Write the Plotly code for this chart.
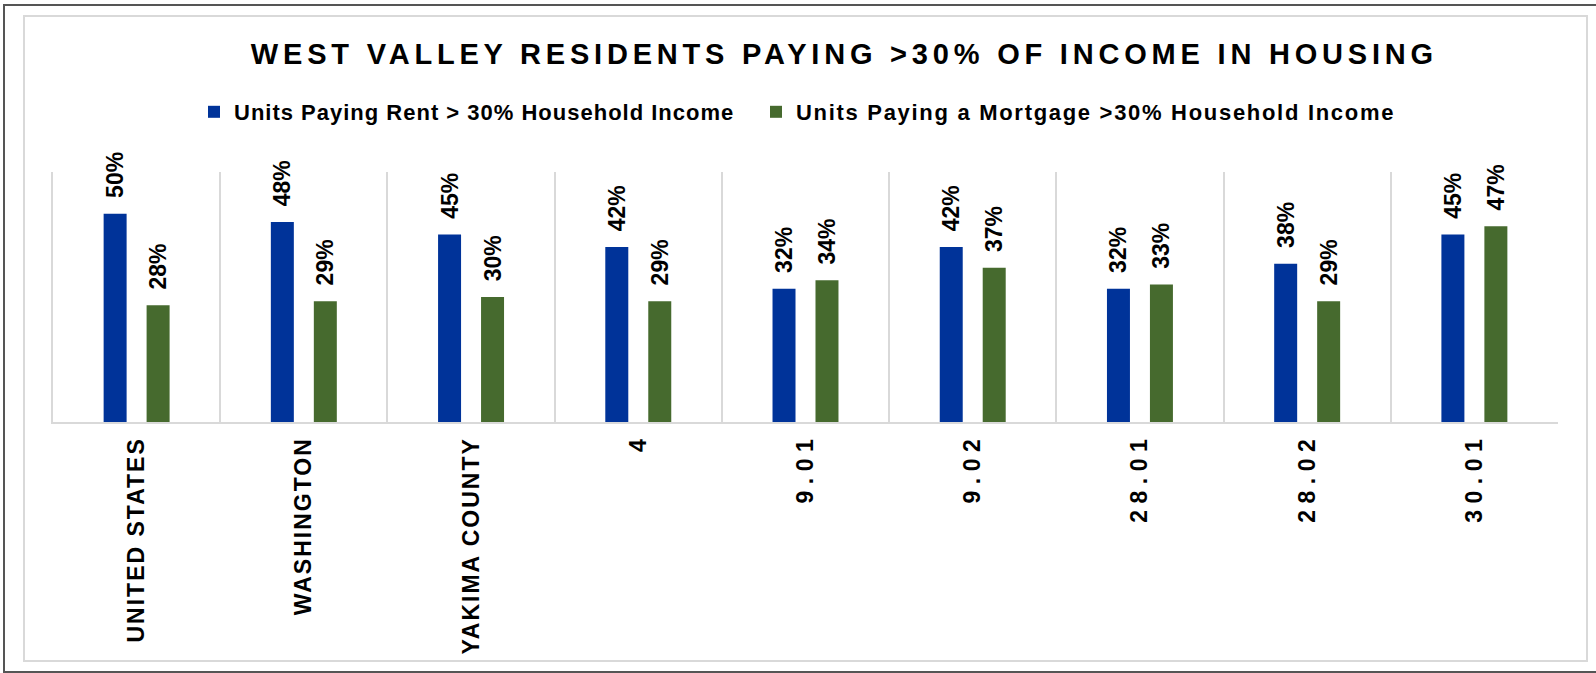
import plotly.graph_objects as go

categories = ["UNITED STATES", "WASHINGTON", "YAKIMA COUNTY", "4", "9.01", "9.02", "28.01", "28.02", "30.01"]
rent_pct = [0.50, 0.48, 0.45, 0.42, 0.32, 0.42, 0.32, 0.38, 0.45]
mortgage_pct = [0.28, 0.29, 0.30, 0.29, 0.34, 0.37, 0.33, 0.29, 0.47]
series_names = ["Units Paying Rent > 30% Household Income",
                "Units Paying a Mortgage >30% Household Income"]
title_text = "WEST VALLEY RESIDENTS PAYING >30% OF INCOME IN HOUSING"

W, H = 1596, 673
ML, MR, MT, MB = 53, 38, 172, 251
PW, PH = W - ML - MR, H - MT - MB

BLUE = "#003399"
GREEN = "#466A2E"
GRID = "#D9D9D9"
FONT = "Liberation Sans, Arial, sans-serif"


def px_x(p):
    return (p - ML) / PW


def px_y(p):
    return (H - MB - p) / PH


def spaced(s, ls):
    if len(s) < 2:
        return s
    return f"<span style='letter-spacing:{ls}px'>{s[:-1]}</span>{s[-1]}"


tick_text = [spaced(c, 6.5 if c[0].isdigit() else 2) for c in categories]

fig = go.Figure()
legend_ids = ["legend", "legend2"]
legend_spacing = [1, 1.7]
for i, (vals, color) in enumerate([(rent_pct, BLUE), (mortgage_pct, GREEN)]):
    fig.add_trace(go.Bar(
        x=categories, y=vals, name=spaced(series_names[i], legend_spacing[i]), legend=legend_ids[i],
        marker=dict(color=color, line=dict(width=0)),
        texttemplate="\u00a0\u00a0%{y:.0%}",
        textposition="outside", textangle=-90, constraintext="none",
        cliponaxis=False,
        textfont=dict(family=FONT, size=23, color="black", weight="bold"),
    ))

legend_font = dict(family=FONT, size=22, color="black", weight="bold")
fig.update_layout(
    width=W, height=H,
    margin=dict(l=ML, r=MR, t=MT, b=MB, autoexpand=False),
    paper_bgcolor="white", plot_bgcolor="white",
    barmode="group", bargap=0.486, bargroupgap=0.465,
    font=dict(family=FONT, color="black"),
    title=dict(text=spaced(title_text, 4.8), x=842 / W, xanchor="center",
               y=1 - 54 / H, yanchor="middle",
               font=dict(family=FONT, size=29, color="black", weight="bold")),
    showlegend=True,
    legend=dict(orientation="h", x=px_x(194), xanchor="left", y=px_y(112), yanchor="middle",
                font=legend_font, bgcolor="rgba(0,0,0,0)"),
    legend2=dict(orientation="h", x=px_x(756), xanchor="left", y=px_y(112), yanchor="middle",
                 font=legend_font, bgcolor="rgba(0,0,0,0)"),
    xaxis=dict(type="category", tickmode="array", tickvals=categories, ticktext=tick_text,
               tickangle=-90, tickson="boundaries", ticks="", showgrid=True,
               gridcolor=GRID, gridwidth=1.5, showline=True, linecolor=GRID, linewidth=2,
               ticklabelstandoff=6,
               tickfont=dict(family=FONT, size=23, color="black", weight="bold")),
    yaxis=dict(range=[0, 0.6], showticklabels=False, ticks="", showgrid=False, zeroline=False,
               showline=True, linecolor=GRID, linewidth=1.5),
    shapes=[
        dict(type="rect", xref="paper", yref="paper", x0=px_x(24), x1=px_x(1587),
             y0=px_y(661), y1=px_y(16), line=dict(color=GRID, width=2), layer="below"),
        dict(type="rect", xref="paper", yref="paper", x0=px_x(4), x1=px_x(1605),
             y0=px_y(672), y1=px_y(5), line=dict(color="#555555", width=2), layer="below"),
    ],
)

fig.write_html("out.html", config={"displayModeBar": False},
               post_script="document.body.style.margin='0';document.body.style.overflow='hidden';")
